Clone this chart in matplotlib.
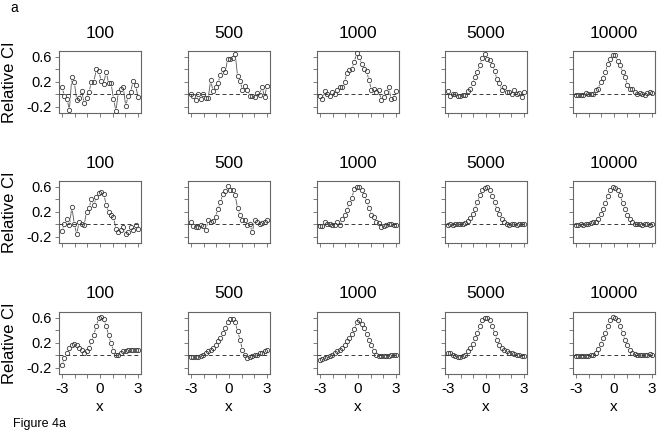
import matplotlib
matplotlib.use('Agg')
import matplotlib.pyplot as plt

plt.rcParams['font.family'] = ['Liberation Sans', 'DejaVu Sans']

# x grid (32 points from -3 to 3)
X = [-3.0, -2.806, -2.613, -2.419, -2.226, -2.032, -1.839, -1.645, -1.452, -1.258,
     -1.065, -0.871, -0.677, -0.484, -0.290, -0.097, 0.097, 0.290, 0.484, 0.677,
     0.871, 1.065, 1.258, 1.452, 1.645, 1.839, 2.032, 2.226, 2.419, 2.613, 2.806, 3.0]

titles = ['100', '500', '1000', '5000', '10000']

# Row 1
r1_100 = [0.11, -0.03, -0.07, -0.25, 0.27, 0.19, -0.09, -0.06, 0.05, -0.14, -0.06, 0.03,
          0.20, 0.20, 0.40, 0.37, 0.21, 0.17, 0.36, 0.18, 0.18, -0.07, -0.27, 0.04, 0.09,
          0.11, -0.19, -0.03, 0.03, 0.21, 0.15, -0.04]
r1_500 = [0.01, -0.03, -0.09, 0.0, -0.07, 0.0, -0.06, -0.06, 0.22, 0.05, 0.12, 0.18, 0.31,
          0.40, 0.36, 0.57, 0.57, 0.58, 0.65, 0.29, 0.21, 0.07, 0.13, 0.07, -0.03, -0.03,
          -0.04, 0.02, -0.01, 0.12, -0.04, 0.13]
r1_1000 = [-0.03, -0.08, 0.05, 0.01, -0.03, 0.03, 0.0, 0.06, 0.11, 0.11, 0.19, 0.34, 0.38,
           0.40, 0.52, 0.66, 0.60, 0.49, 0.40, 0.37, 0.22, 0.07, 0.08, 0.04, 0.07, -0.10,
           -0.04, 0.03, 0.11, -0.07, -0.06, 0.05]
r1_5000 = [0.05, -0.03, 0.01, 0.0, -0.03, -0.03, -0.02, -0.01, 0.05, 0.08, 0.18, 0.28, 0.36,
           0.47, 0.58, 0.64, 0.56, 0.55, 0.47, 0.37, 0.24, 0.18, 0.06, 0.12, 0.04, 0.04,
           0.01, 0.07, 0.01, 0.02, -0.05, 0.04]
r1_10000 = [-0.02, -0.01, -0.02, -0.01, 0.02, 0.0, 0.01, 0.01, 0.07, 0.08, 0.20, 0.26, 0.36,
            0.49, 0.56, 0.62, 0.62, 0.53, 0.47, 0.36, 0.28, 0.15, 0.08, 0.08, 0.04, 0.01,
            0.02, 0.01, -0.01, 0.02, 0.03, 0.02]

# Row 2
r2_100 = [-0.11, 0.01, 0.09, -0.02, 0.27, 0.01, -0.16, 0.04, 0.0, -0.02, 0.20, 0.26, 0.40,
          0.30, 0.44, 0.50, 0.51, 0.49, 0.31, 0.20, 0.15, 0.11, -0.07, -0.13, -0.10, -0.05,
          -0.15, -0.13, -0.05, -0.10, -0.02, -0.08]
r2_500 = [0.03, -0.03, -0.04, -0.05, -0.01, -0.03, -0.10, 0.07, 0.04, 0.05, 0.12, 0.24, 0.35,
          0.48, 0.53, 0.61, 0.55, 0.55, 0.46, 0.26, 0.15, 0.07, 0.07, -0.02, 0.0, -0.13,
          0.07, 0.04, 0.01, 0.02, 0.04, 0.07]
r2_1000 = [-0.03, -0.03, 0.03, 0.01, 0.01, -0.02, -0.02, 0.04, -0.02, 0.09, 0.15, 0.22, 0.34,
           0.42, 0.57, 0.60, 0.60, 0.55, 0.46, 0.37, 0.26, 0.15, 0.12, 0.04, 0.02, -0.04,
           -0.03, -0.01, 0.01, 0.0, -0.02, -0.01]
r2_5000 = [-0.01, 0.0, -0.01, 0.0, 0.0, 0.01, 0.01, 0.02, 0.05, 0.10, 0.16, 0.25, 0.35, 0.46,
           0.55, 0.58, 0.60, 0.55, 0.45, 0.35, 0.24, 0.16, 0.09, 0.04, 0.01, -0.01, 0.0, 0.0,
           -0.01, 0.0, 0.0, 0.0]
r2_10000 = [-0.01, -0.01, 0.0, -0.01, 0.0, 0.01, 0.02, 0.03, 0.04, 0.09, 0.16, 0.24, 0.34,
            0.45, 0.55, 0.60, 0.58, 0.55, 0.46, 0.34, 0.24, 0.15, 0.08, 0.04, 0.01, 0.01,
            0.0, -0.01, 0.0, 0.0, -0.01, 0.0]

# Row 3
r3_100 = [-0.16, -0.04, 0.04, 0.12, 0.16, 0.18, 0.16, 0.12, 0.08, 0.04, 0.06, 0.11, 0.22,
          0.33, 0.47, 0.60, 0.61, 0.58, 0.47, 0.32, 0.19, 0.07, 0.01, 0.01, 0.03, 0.06, 0.07,
          0.08, 0.08, 0.08, 0.08, 0.09]
r3_500 = [-0.03, -0.03, -0.03, -0.03, -0.01, 0.01, 0.03, 0.06, 0.08, 0.12, 0.17, 0.22, 0.28,
          0.36, 0.44, 0.53, 0.58, 0.58, 0.53, 0.39, 0.25, 0.08, 0.0, -0.04, -0.03, -0.01,
          0.0, 0.01, 0.03, 0.04, 0.07, 0.09]
r3_1000 = [-0.07, -0.06, -0.04, -0.03, -0.01, 0.01, 0.03, 0.06, 0.08, 0.12, 0.17, 0.22, 0.28,
           0.34, 0.42, 0.53, 0.57, 0.50, 0.44, 0.34, 0.25, 0.16, 0.07, 0.0, -0.02, -0.02,
           -0.02, -0.01, -0.01, 0.0, 0.01, 0.0]
r3_5000 = [0.04, 0.03, 0.01, -0.01, -0.03, -0.03, -0.02, 0.01, 0.06, 0.11, 0.18, 0.28, 0.36,
           0.47, 0.57, 0.60, 0.60, 0.56, 0.46, 0.36, 0.25, 0.17, 0.11, 0.08, 0.06, 0.04, 0.03,
           0.02, 0.01, 0.0, -0.01, -0.01]
r3_10000 = [-0.01, -0.01, -0.01, -0.01, -0.01, -0.01, 0.0, 0.01, 0.04, 0.10, 0.18, 0.28, 0.36,
            0.47, 0.57, 0.61, 0.60, 0.56, 0.47, 0.36, 0.25, 0.17, 0.09, 0.04, 0.02, 0.01, 0.0,
            0.0, 0.0, 0.01, 0.02, 0.01]

rows = [[r1_100, r1_500, r1_1000, r1_5000, r1_10000],
        [r2_100, r2_500, r2_1000, r2_5000, r2_10000],
        [r3_100, r3_500, r3_1000, r3_5000, r3_10000]]

xticks = [-3, -2, -1, 0, 1, 2, 3]
xticklabels = ['-3', '', '', '0', '', '', '3']
yticks = [-0.2, 0.0, 0.2, 0.4, 0.6]
yticklabels = ['-0.2', '', '0.2', '', '0.6']

W, H = 661, 437
fig = plt.figure(figsize=(W / 100, H / 100), dpi=100)

lefts = [59, 188, 317, 445, 573]
tops = [51, 181, 312]
pw, ph = 82, 62
fg = '#3a3a3a'
frame = '#666666'

for r in range(3):
    for c in range(5):
        L, T = lefts[c], tops[r]
        ax = fig.add_axes([L / W, 1 - (T + ph) / H, pw / W, ph / H])
        y = rows[r][c]
        ax.plot(X, y, color='#555555', lw=0.6, zorder=1)
        ax.plot(X, y, ls='none', marker='o', ms=4.6, mfc='white', mec='none', zorder=2)
        ax.axhline(0, ls=(0, (4, 3)), color=fg, lw=0.7, zorder=3)
        ax.plot(X, y, ls='none', marker='o', ms=3.1, mfc='none', mec=fg, mew=0.6, zorder=4)
        ax.set_xlim(-3.24, 3.24)
        ax.set_ylim(-0.3, 0.69)
        ax.set_xticks(xticks)
        ax.set_yticks(yticks)
        if r == 2:
            ax.set_xticklabels(xticklabels, fontsize=11)
            ax.set_xlabel('x', fontsize=11, labelpad=3)
        else:
            ax.set_xticklabels([])
        if c == 0:
            ax.set_yticklabels(yticklabels, fontsize=10.5)
        else:
            ax.set_yticklabels([])
        ax.tick_params(length=3, width=0.6, color=frame, pad=2.5)
        for s in ax.spines.values():
            s.set_color(frame)
            s.set_linewidth(0.8)
        fig.text((L + pw / 2) / W, 1 - (T - 18) / H, titles[c], ha='center', va='center',
                 fontsize=12.5)
    fig.text(10 / W, 1 - (tops[r] + ph / 2) / H, 'Relative CI', rotation=90,
             ha='center', va='center', fontsize=12)

fig.text(10 / W, 1 - 8 / H, 'a', ha='left', va='center', fontsize=10)
fig.text(13 / W, 1 - 424 / H, 'Figure 4a', ha='left', va='center', fontsize=9)

fig.savefig('out.png', dpi=100)
